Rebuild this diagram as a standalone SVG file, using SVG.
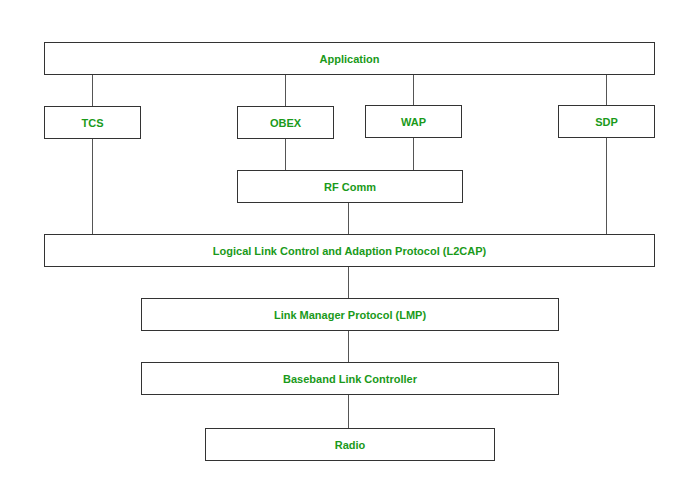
<svg xmlns="http://www.w3.org/2000/svg" width="700" height="500" viewBox="0 0 700 500">
<style>
.box{fill:#ffffff;stroke:#333333;stroke-width:1}
.lbl{font-family:"Liberation Sans",Arial,sans-serif;font-size:11px;font-weight:bold;fill:#1a9a1a;text-anchor:middle;dominant-baseline:central}
.con{stroke:#555555;stroke-width:1;fill:none}
</style>
<rect width="700" height="500" fill="#ffffff"/>
<g id="connectors">
<line class="con" x1="92.5" y1="74" x2="92.5" y2="106"/>
<line class="con" x1="285.5" y1="74" x2="285.5" y2="106"/>
<line class="con" x1="413.5" y1="74" x2="413.5" y2="105"/>
<line class="con" x1="606.5" y1="74" x2="606.5" y2="105"/>
<line class="con" x1="285.5" y1="138" x2="285.5" y2="170"/>
<line class="con" x1="413.5" y1="137" x2="413.5" y2="170"/>
<line class="con" x1="92.5" y1="138" x2="92.5" y2="234"/>
<line class="con" x1="606.5" y1="138" x2="606.5" y2="234"/>
<line class="con" x1="348.5" y1="202" x2="348.5" y2="234"/>
<line class="con" x1="348.5" y1="266" x2="348.5" y2="298"/>
<line class="con" x1="348.5" y1="330" x2="348.5" y2="362"/>
<line class="con" x1="348.5" y1="394" x2="348.5" y2="428"/>
</g>
<g id="application"><rect class="box" x="44.5" y="42.5" width="610" height="32"/><text class="lbl" x="349.5" y="58.5">Application</text></g>
<g id="tcs"><rect class="box" x="44.5" y="106.5" width="96" height="32"/><text class="lbl" x="92.5" y="122.5">TCS</text></g>
<g id="obex"><rect class="box" x="237.5" y="106.5" width="96" height="32"/><text class="lbl" x="285.5" y="122.5">OBEX</text></g>
<g id="wap"><rect class="box" x="365.5" y="105.5" width="96" height="32"/><text class="lbl" x="413.5" y="121.5">WAP</text></g>
<g id="sdp"><rect class="box" x="558.5" y="105.5" width="96" height="32"/><text class="lbl" x="606.5" y="121.5">SDP</text></g>
<g id="rfcomm"><rect class="box" x="237.5" y="170.5" width="225" height="32"/><text class="lbl" x="350" y="186.5">RF Comm</text></g>
<g id="l2cap"><rect class="box" x="44.5" y="234.5" width="610" height="32"/><text class="lbl" x="349.5" y="250.5">Logical Link Control and Adaption Protocol (L2CAP)</text></g>
<g id="lmp"><rect class="box" x="141.5" y="298.5" width="417" height="32"/><text class="lbl" x="350" y="314.5">Link Manager Protocol (LMP)</text></g>
<g id="baseband"><rect class="box" x="141.5" y="362.5" width="417" height="32"/><text class="lbl" x="350" y="378.5">Baseband Link Controller</text></g>
<g id="radio"><rect class="box" x="205.5" y="428.5" width="289" height="32"/><text class="lbl" x="350" y="444.5">Radio</text></g>
</svg>
